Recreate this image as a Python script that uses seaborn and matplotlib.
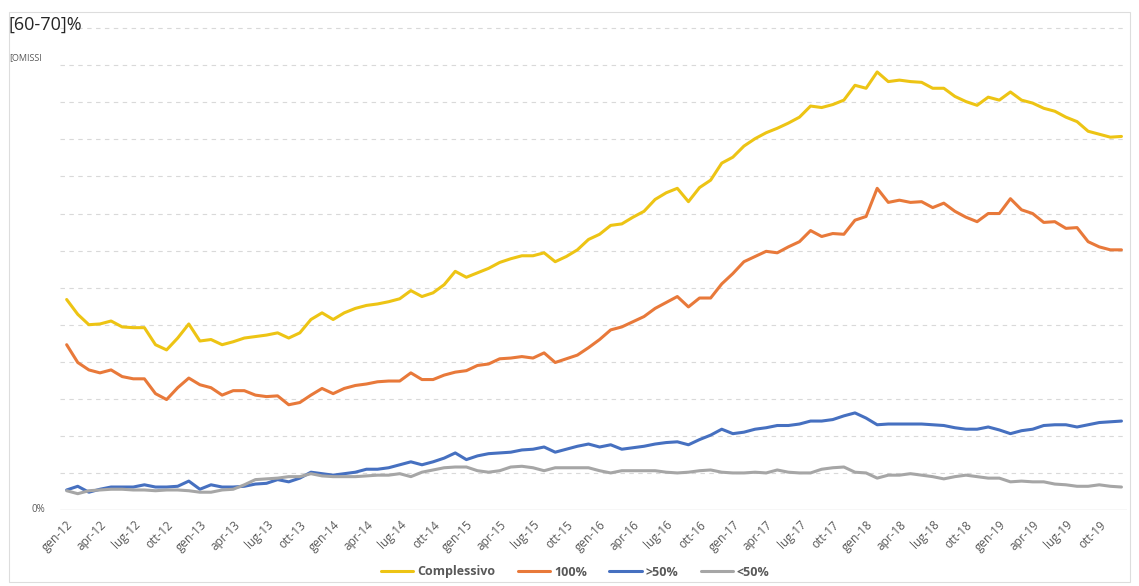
import matplotlib
matplotlib.use("Agg")
import matplotlib.pyplot as plt
import matplotlib.transforms as mtransforms
import pandas as pd
import seaborn as sns
from matplotlib.patches import Rectangle

# Monthly series, gen-12 .. dic-19 (96 months), values in percent
complessivo = [
    28.4, 26.4, 25.0, 25.1, 25.5, 24.7, 24.6, 24.6, 22.3, 21.6, 23.2, 25.1,
    22.8, 23.0, 22.3, 22.7, 23.2, 23.4, 23.6, 23.9, 23.2, 23.9, 25.7, 26.6,
    25.7, 26.6, 27.2, 27.6, 27.8, 28.1, 28.5, 29.6, 28.8, 29.3, 30.4, 32.2,
    31.4, 32.0, 32.6, 33.4, 33.9, 34.3, 34.3, 34.7, 33.5, 34.2, 35.1, 36.5,
    37.2, 38.4, 38.6, 39.5, 40.3, 41.9, 42.8, 43.4, 41.6, 43.5, 44.5, 46.8,
    47.6, 49.1, 50.1, 50.9, 51.5, 52.2, 53.0, 54.5, 54.3, 54.7, 55.3, 57.3,
    56.9, 59.1, 57.8, 58.0, 57.8, 57.7, 56.9, 56.9, 55.8, 55.1, 54.6, 55.7,
    55.3, 56.4, 55.3, 54.9, 54.2, 53.8, 53.0, 52.4, 51.1, 50.7, 50.3, 50.4,
]
cento = [
    22.3, 19.9, 18.9, 18.5, 18.9, 18.0, 17.7, 17.7, 15.7, 14.9, 16.5, 17.8,
    16.9, 16.5, 15.5, 16.1, 16.1, 15.5, 15.3, 15.4, 14.2, 14.5, 15.5, 16.4,
    15.7, 16.4, 16.8, 17.0, 17.3, 17.4, 17.4, 18.5, 17.6, 17.6, 18.2, 18.6,
    18.8, 19.5, 19.7, 20.4, 20.5, 20.7, 20.5, 21.2, 19.9, 20.4, 20.9, 21.9,
    23.0, 24.3, 24.7, 25.4, 26.1, 27.2, 28.0, 28.8, 27.4, 28.6, 28.6, 30.5,
    31.9, 33.5, 34.2, 34.9, 34.7, 35.5, 36.2, 37.7, 36.9, 37.3, 37.2, 39.1,
    39.6, 43.4, 41.5, 41.8, 41.5, 41.6, 40.8, 41.4, 40.3, 39.5, 38.9, 40.0,
    40.0, 42.0, 40.5, 40.0, 38.8, 38.9, 38.0, 38.1, 36.2, 35.5, 35.1, 35.1,
]
oltre_50 = [
    2.7, 3.2, 2.4, 2.8, 3.1, 3.1, 3.1, 3.4, 3.1, 3.1, 3.2, 3.9,
    2.8, 3.4, 3.1, 3.1, 3.2, 3.5, 3.6, 4.1, 3.8, 4.3, 5.1, 4.9,
    4.7, 4.9, 5.1, 5.5, 5.5, 5.7, 6.1, 6.5, 6.1, 6.5, 7.0, 7.7,
    6.8, 7.3, 7.6, 7.7, 7.8, 8.1, 8.2, 8.5, 7.8, 8.2, 8.6, 8.9,
    8.5, 8.8, 8.2, 8.4, 8.6, 8.9, 9.1, 9.2, 8.8, 9.5, 10.1, 10.9,
    10.3, 10.5, 10.9, 11.1, 11.4, 11.4, 11.6, 12.0, 12.0, 12.2, 12.7, 13.1,
    12.4, 11.5, 11.6, 11.6, 11.6, 11.6, 11.5, 11.4, 11.1, 10.9, 10.9, 11.2,
    10.8, 10.3, 10.7, 10.9, 11.4, 11.5, 11.5, 11.2, 11.5, 11.8, 11.9, 12.0,
]
sotto_50 = [
    2.6, 2.2, 2.6, 2.7, 2.8, 2.8, 2.7, 2.7, 2.6, 2.7, 2.7, 2.6,
    2.4, 2.4, 2.7, 2.8, 3.4, 4.1, 4.2, 4.3, 4.5, 4.5, 4.9, 4.6,
    4.5, 4.5, 4.5, 4.6, 4.7, 4.7, 4.9, 4.5, 5.1, 5.4, 5.7, 5.8,
    5.8, 5.3, 5.1, 5.3, 5.8, 5.9, 5.7, 5.3, 5.7, 5.7, 5.7, 5.7,
    5.3, 5.0, 5.3, 5.3, 5.3, 5.3, 5.1, 5.0, 5.1, 5.3, 5.4, 5.1,
    5.0, 5.0, 5.1, 5.0, 5.4, 5.1, 5.0, 5.0, 5.5, 5.7, 5.8, 5.1,
    5.0, 4.3, 4.7, 4.7, 4.9, 4.7, 4.5, 4.2, 4.5, 4.7, 4.5, 4.3,
    4.3, 3.8, 3.9, 3.8, 3.8, 3.5, 3.4, 3.2, 3.2, 3.4, 3.2, 3.1,
]

serie = ["Complessivo", "100%", ">50%", "<50%"]
colori = ["#EDC414", "#E8793A", "#4670C0", "#A6A6A6"]

etichette_x = [
    "gen-12", "apr-12", "lug-12", "ott-12", "gen-13", "apr-13", "lug-13", "ott-13",
    "gen-14", "apr-14", "lug-14", "ott-14", "gen-15", "apr-15", "lug-15", "ott-15",
    "gen-16", "apr-16", "lug-16", "ott-16", "gen-17", "apr-17", "lug-17", "ott-17",
    "gen-18", "apr-18", "lug-18", "ott-18", "gen-19", "apr-19", "lug-19", "ott-19",
]

n_mesi = len(complessivo)
df = pd.DataFrame({
    "mese": list(range(n_mesi)),
    serie[0]: complessivo,
    serie[1]: cento,
    serie[2]: oltre_50,
    serie[3]: sotto_50,
})
lungo = df.melt(id_vars="mese", var_name="serie", value_name="valore")

sns.set_style("white")
plt.rcParams["font.family"] = ["Open Sans", "DejaVu Sans"]

fig = plt.figure(figsize=(11.39, 5.86), dpi=100)
ax = fig.add_axes([60 / 1139, 76 / 586, 1067 / 1139, 484 / 586])

sns.lineplot(
    data=lungo, x="mese", y="valore", hue="serie", hue_order=serie,
    palette=dict(zip(serie, colori)), linewidth=2.2, ax=ax, legend=False,
)

ax.set_xlim(-0.6, 95.5)
ax.set_ylim(0, 65.3)

# dashed horizontal gridlines every 5%, solid baseline at 0%
for v in range(5, 70, 5):
    ax.axhline(v, color="#D9D9D9", lw=0.8, ls=(0, (4, 4)), zorder=0)
ax.axhline(0, color="#D9D9D9", lw=1.0, zorder=0)

for s in ax.spines.values():
    s.set_visible(False)

ax.set_xticks(list(range(0, n_mesi, 3)))
ax.set_xticklabels(etichette_x, rotation=45, ha="right", rotation_mode="anchor",
                   fontsize=8.5, color="#595959")
ax.tick_params(axis="x", length=0, pad=6)

# y labels: only the baseline and the redacted upper value are shown
ax.set_yticks([])
ax.set_xlabel("")
ax.set_ylabel("")
lbl = mtransforms.blended_transform_factory(fig.transFigure, ax.transData)
ax.text(45 / 1139, 0, "0%", transform=lbl, fontsize=7, color="#595959",
        ha="right", va="center")
ax.text(9 / 1139, 61.0, "[OMISSI", transform=lbl, fontsize=6.5, color="#595959",
        ha="left", va="center")

fig.text(8 / 1139, 1 - 25 / 586, "[60-70]%", fontsize=13, color="#262626",
         va="center", ha="left")

# legend along the bottom
handles = [plt.Line2D([], [], color=c, lw=2.2) for c in colori]
fig.legend(handles, serie, loc="center", bbox_to_anchor=(0.505, 1 - 572 / 586),
           ncol=4, frameon=False, handlelength=2.6,
           columnspacing=1.8, handletextpad=0.3,
           prop={"weight": "bold", "size": 9})
for t in fig.legends[0].get_texts():
    t.set_color("#595959")

# thin outer frame
fig.patches.append(Rectangle((9 / 1139, 4 / 586), 1121 / 1139, 570 / 586,
                             transform=fig.transFigure, fill=False,
                             edgecolor="#DDDDDD", lw=0.8))

fig.savefig("out.png", dpi=100)
